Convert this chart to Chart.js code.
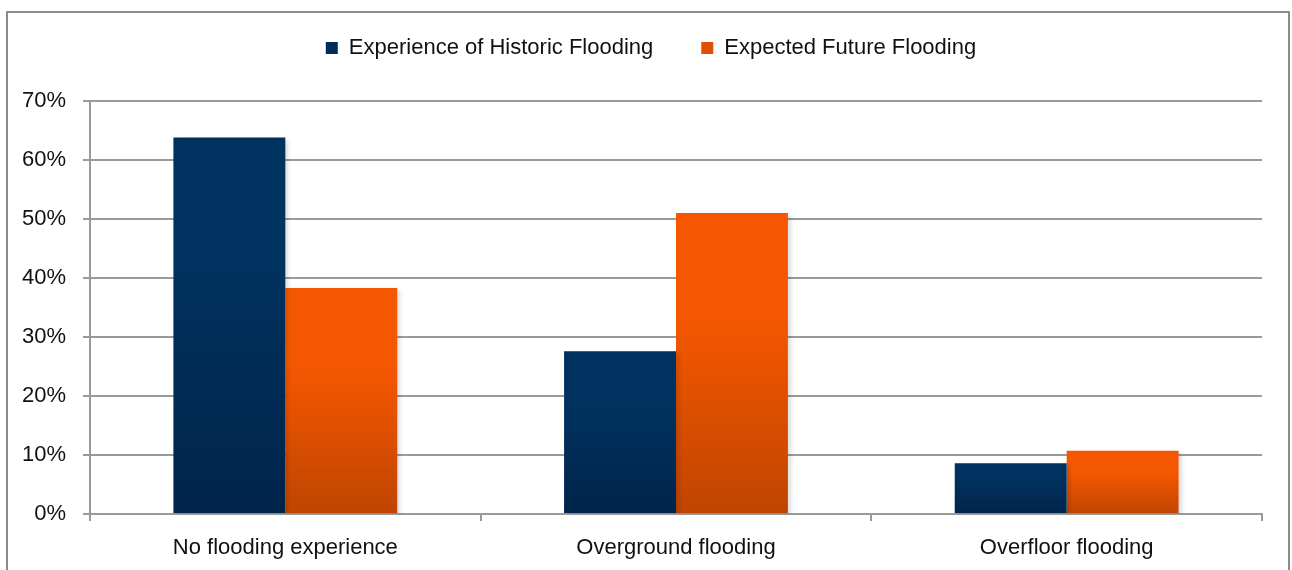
<!DOCTYPE html>
<html>
<head>
<meta charset="utf-8">
<script src="https://cdn.jsdelivr.net/npm/chart.js@4"></script>
<style>
  html, body { margin: 0; padding: 0; background: #ffffff; }
  #wrap { width: 1292px; height: 570px; }
</style>
</head>
<body>
<div id="wrap"><canvas id="c" width="1292" height="570"></canvas></div>
<script>
const categories = ['No flooding experience', 'Overground flooding', 'Overfloor flooding'];
const seriesNames = ['Experience of Historic Flooding', 'Expected Future Flooding'];
const historic = [63.8, 27.6, 8.6];
const expected = [38.3, 51.0, 10.7];
const yTicks = [0, 10, 20, 30, 40, 50, 60, 70];

// top and bottom colours of each series' bar gradient
const navy = { top: '#00325f', bottom: '#00244a', solid: '#002c58' };
const orange = { top: '#f55700', bottom: '#bf4500', solid: '#e04f00' };

function barGradient(pal) {
  return function (ctx) {
    const chart = ctx.chart;
    if (!chart.chartArea || ctx.type !== 'data') return pal.solid;
    const y = chart.scales.y;
    const top = y.getPixelForValue(ctx.raw);
    const base = y.getPixelForValue(0);
    if (!isFinite(top) || !isFinite(base) || base - top < 1) return pal.solid;
    const g = chart.ctx.createLinearGradient(0, top, 0, base);
    g.addColorStop(0, pal.top);
    g.addColorStop(0.35, pal.top);
    g.addColorStop(1, pal.bottom);
    return g;
  };
}

// outer frame around the whole chart
const framePlugin = {
  id: 'frame',
  beforeDraw(chart) {
    const c = chart.ctx;
    c.save();
    c.strokeStyle = '#8c8c8c';
    c.lineWidth = 2;
    c.strokeRect(7, 12, 1282, 600);
    c.restore();
  }
};

// soft drop shadow behind the bars
const shadowPlugin = {
  id: 'barShadow',
  beforeDatasetsDraw(chart) {
    const c = chart.ctx;
    c.save();
    c.shadowColor = 'rgba(0,0,0,0.13)';
    c.shadowOffsetX = 3;
    c.shadowOffsetY = 2;
    c.shadowBlur = 4;
  },
  afterDatasetsDraw(chart) {
    chart.ctx.restore();
  }
};

const FONT = "'Liberation Sans', Arial, sans-serif";

new Chart(document.getElementById('c'), {
  type: 'bar',
  data: {
    labels: categories,
    datasets: [
      { label: seriesNames[0], data: historic, backgroundColor: barGradient(navy), legendColor: navy.solid },
      { label: seriesNames[1], data: expected, backgroundColor: barGradient(orange), legendColor: orange.solid }
    ]
  },
  options: {
    responsive: false,
    animation: false,
    devicePixelRatio: 1,
    categoryPercentage: 0.573,
    barPercentage: 1.0,
    layout: { padding: { top: -11, left: 0, right: -10, bottom: 0 } },
    plugins: {
      tooltip: { enabled: false },
      legend: {
        position: 'top',
        align: 'center',
        labels: {
          font: { family: FONT, size: 22 },
          color: '#111111',
          boxWidth: 12,
          boxHeight: 12,
          padding: 48,
          generateLabels(chart) {
            return chart.data.datasets.map((ds, i) => ({
              text: ds.label,
              fillStyle: ds.legendColor,
              strokeStyle: ds.legendColor,
              lineWidth: 0,
              hidden: false,
              datasetIndex: i,
              fontColor: '#111111'
            }));
          }
        }
      },
      title: {
        display: true,
        text: '',
        weight: 500,
        font: { size: 10 },
        padding: { top: 0, bottom: 20 }
      }
    },
    scales: {
      x: {
        grid: {
          display: true,
          drawOnChartArea: false,
          drawTicks: true,
          tickLength: 7,
          color: '#9a9a9a',
          lineWidth: 2,
          offset: true
        },
        border: { display: true, color: '#9a9a9a', width: 2 },
        ticks: {
          font: { family: FONT, size: 22 },
          color: '#111111',
          padding: 14,
          maxRotation: 0
        },
        afterFit(scale) { scale.height = 56; }
      },
      y: {
        min: 0,
        max: 70,
        afterBuildTicks(scale) { scale.ticks = yTicks.map(v => ({ value: v })); },
        grid: {
          color: '#9a9a9a',
          lineWidth: 2,
          drawTicks: true,
          tickLength: 7
        },
        border: { display: true, color: '#9a9a9a', width: 2 },
        ticks: {
          font: { family: FONT, size: 22 },
          color: '#111111',
          padding: 17,
          callback: v => v + '%'
        },
        afterFit(scale) { scale.width = 90; }
      },
      // empty margin to the right of the plot
      yRight: {
        type: 'linear',
        position: 'right',
        display: true,
        grid: { display: false },
        border: { display: false },
        ticks: { display: false },
        afterFit(scale) { scale.width = 40; }
      }
    }
  },
  plugins: [framePlugin, shadowPlugin]
});
</script>
</body>
</html>
